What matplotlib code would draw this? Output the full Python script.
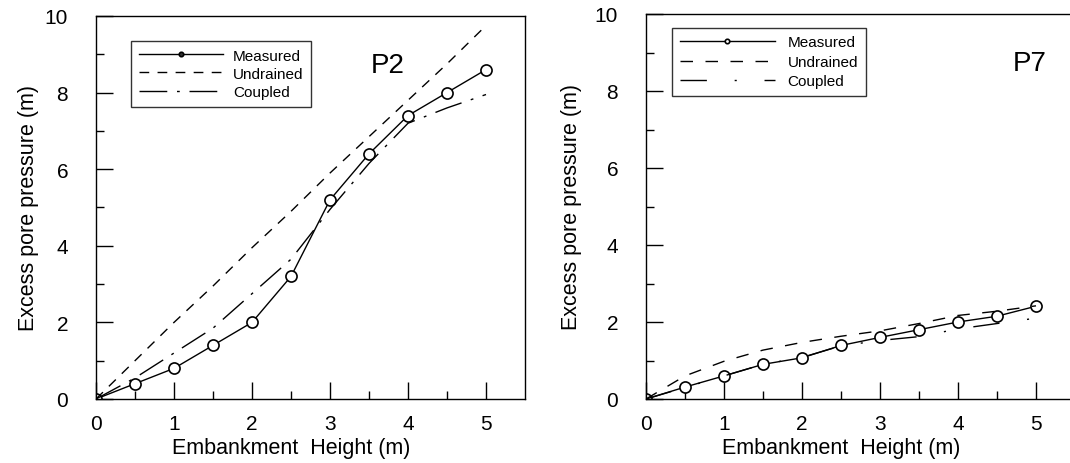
import numpy as np
import matplotlib
matplotlib.use('Agg')
import matplotlib.pyplot as plt

plt.rcParams['font.family'] = ['Liberation Sans', 'DejaVu Sans']
plt.rcParams['lines.scale_dashes'] = False

# embankment height (m)
height = [0, 0.5, 1, 1.5, 2, 2.5, 3, 3.5, 4, 4.5, 5]

# piezometer P2
p2_measured = [0, 0.4, 0.8, 1.4, 2.0, 3.2, 5.2, 6.4, 7.4, 8.0, 8.6]
p2_undrained = [0, 1.0, 2.0, 2.95, 3.95, 4.9, 5.9, 6.85, 7.8, 8.75, 9.75]
p2_coupled = [0, 0.55, 1.2, 1.85, 2.75, 3.65, 4.95, 6.15, 7.2, 7.6, 7.95]

# piezometer P7
p7_measured = [0, 0.31, 0.6, 0.9, 1.07, 1.39, 1.6, 1.8, 2.0, 2.15, 2.41]
p7_undrained = [0, 0.6, 0.98, 1.27, 1.47, 1.63, 1.77, 1.96, 2.17, 2.28, 2.42]
p7_coupled = [0, 0.3, 0.6, 0.9, 1.08, 1.38, 1.52, 1.62, 1.82, 1.96, 2.1]

panels = [
    dict(name='P2', meas=p2_measured, und=p2_undrained, cpl=p2_coupled,
         rect=[96/1070, 64/464, 429/1070, 383/464],
         und_ls=(0, (7, 6)), cpl_ls=(0, (20, 7, 2, 7)),
         leg_xy=(0.082, 0.935), leg_hl=5.5, leg_pad=0.65, leg_sp=0.28,
         tag_xy=(0.68, 0.872), ylab_x=-0.133, leg_mfc='#333333'),
    dict(name='P7', meas=p7_measured, und=p7_undrained, cpl=p7_coupled,
         rect=[646/1070, 64/464, 429/1070, 385/464],
         und_ls=(0, (9, 9)), cpl_ls=(0, (19, 20, 1.5, 20)),
         leg_xy=(0.061, 0.964), leg_hl=6.2, leg_pad=0.85, leg_sp=0.36,
         tag_xy=(0.895, 0.872), ylab_x=-0.149, leg_mfc='white'),
]

fig = plt.figure(figsize=(10.7, 4.64), dpi=100)

for p in panels:
    ax = fig.add_axes(p['rect'])
    ax.plot(height, p['meas'], color='black', lw=1.0, marker='o', ms=8,
            mfc='white', mec='black', mew=1.2, label='Measured')
    ax.plot(height, p['und'], color='black', lw=1.0, linestyle=p['und_ls'],
            label='Undrained')
    ax.plot(height, p['cpl'], color='black', lw=1.0, linestyle=p['cpl_ls'],
            label='Coupled')

    ax.set_xlim(0, 5.5)
    ax.set_ylim(0, 10)
    ax.set_xticks(np.arange(0, 6, 1))
    ax.set_xticks(np.arange(0.5, 5, 1), minor=True)
    ax.set_yticks(np.arange(0, 11, 2))
    ax.set_yticks(np.arange(1, 10, 2), minor=True)
    ax.tick_params(which='both', direction='in', top=False, right=False, width=1,
                   labelsize=15, color='black')
    ax.tick_params(which='major', length=12)
    ax.tick_params(which='minor', length=6)
    ax.tick_params(axis='y', which='major', pad=20)
    ax.tick_params(axis='x', which='major', pad=11)
    for s in ax.spines.values():
        s.set_linewidth(1)

    ax.set_xlabel('Embankment  Height (m)', fontsize=15.5)
    ax.xaxis.set_label_coords(2.5 / 5.5, -0.1)
    ax.set_ylabel('Excess pore pressure (m)', fontsize=15.5)
    ax.yaxis.set_label_coords(p['ylab_x'], 0.5)

    leg = ax.legend(loc='upper left', bbox_to_anchor=p['leg_xy'], fontsize=11,
                    handlelength=p['leg_hl'], handletextpad=p['leg_pad'],
                    labelspacing=p['leg_sp'], markerscale=0.4, fancybox=False,
                    framealpha=1, edgecolor='#333333', borderpad=0.5,
                    borderaxespad=0)
    leg.get_frame().set_linewidth(1)
    leg.get_lines()[0].set_markerfacecolor(p['leg_mfc'])

    ax.text(p['tag_xy'][0], p['tag_xy'][1], p['name'], transform=ax.transAxes,
            fontsize=20, ha='center', va='center')

fig.savefig('out.png', dpi=100)
